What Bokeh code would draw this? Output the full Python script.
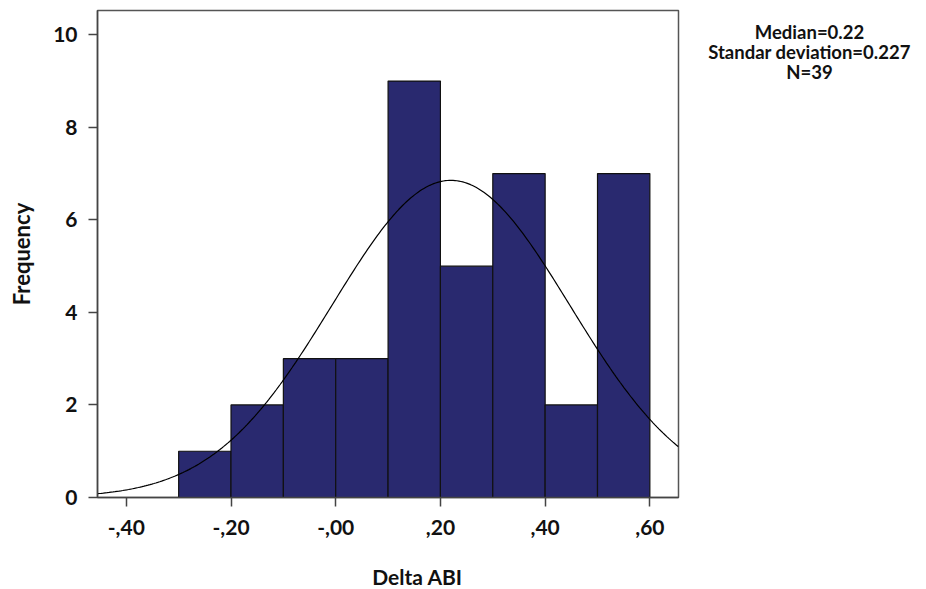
import numpy as np
from bokeh.plotting import figure
from bokeh.models import FixedTicker, Range1d
from bokeh.layouts import row, column
from bokeh.core.properties import value
from bokeh.embed import file_html
from bokeh.resources import INLINE

# Histogram data (Delta ABI)
bin_edges = [-0.3, -0.2, -0.1, 0.0, 0.1, 0.2, 0.3, 0.4, 0.5, 0.6]
counts = [1, 2, 3, 3, 9, 5, 7, 2, 7]

# Stats shown in the annotation / fitted normal curve
mean_val = 0.22
sd_val = 0.227
n_val = 39
bin_width = 0.1

x_ticks = [-0.4, -0.2, 0.0, 0.2, 0.4, 0.6]
x_tick_labels = ["-,40", "-,20", "-,00", ",20", ",40", ",60"]
y_ticks = [0, 2, 4, 6, 8, 10]
x_title = "Delta ABI"
y_title = "Frequency"
ann_lines = ["Median=0.22", "Standar deviation=0.227", "N=39"]

FONT = "Lato"
TXT = "#111111"

MAIN_W, MAIN_H = 690, 555

p = figure(width=MAIN_W, height=MAIN_H, output_backend="svg", toolbar_location=None,
           x_range=Range1d(-0.455, 0.6547), y_range=Range1d(0, 10.525),
           min_border_left=97, min_border_right=12, min_border_top=10,
           min_border_bottom=58)

p.xgrid.visible = False
p.ygrid.visible = False
p.background_fill_color = "white"
p.border_fill_color = "white"
p.outline_line_color = "#555555"
p.outline_line_width = 1.5

p.quad(left=bin_edges[:-1], right=bin_edges[1:], bottom=0, top=counts,
       fill_color="#29296f", line_color="#111111", line_width=1.2)

xs = np.linspace(-0.455, 0.6547, 300)
ys = n_val * bin_width / (sd_val * np.sqrt(2 * np.pi)) * np.exp(-0.5 * ((xs - mean_val) / sd_val) ** 2)
p.line(xs, ys, line_color="black", line_width=1.2)

for ax in (p.xaxis, p.yaxis):
    ax.axis_line_color = "#444444"
    ax.axis_line_width = 1.5
    ax.major_tick_line_color = "#444444"
    ax.major_tick_line_width = 1.5
    ax.major_tick_out = 9
    ax.major_tick_in = 0
    ax.minor_tick_line_color = None
    ax.major_label_text_font = FONT
    ax.major_label_text_font_style = "bold"
    ax.major_label_text_font_size = "21px"
    ax.major_label_text_color = TXT
    ax.axis_label_text_font = FONT
    ax.axis_label_text_font_style = "bold"
    ax.axis_label_text_font_size = "22px"
    ax.axis_label_text_color = TXT

p.xaxis.ticker = FixedTicker(ticks=x_ticks)
p.xaxis.major_label_overrides = {t: l for t, l in zip(x_ticks, x_tick_labels)}
p.xaxis.major_label_standoff = 13

p.yaxis.ticker = FixedTicker(ticks=y_ticks)
p.yaxis.major_label_standoff = 11
p.yaxis.axis_label = y_title
p.yaxis.axis_label_standoff = 15


def text_panel(w, h):
    f = figure(width=w, height=h, output_backend="svg", toolbar_location=None,
               x_range=Range1d(0, w), y_range=Range1d(h, 0),
               min_border=0, min_border_left=0, min_border_right=0,
               min_border_top=0, min_border_bottom=0)
    f.axis.visible = False
    f.grid.visible = False
    f.outline_line_color = None
    f.background_fill_color = "white"
    f.border_fill_color = "white"
    return f


# Stats annotation panel (right)
side = text_panel(926 - MAIN_W, MAIN_H)
side.text(x=[809 - MAIN_W] * 3, y=[24, 47, 70], text=ann_lines,
          text_align="center", text_baseline="middle",
          text_font=value(FONT), text_font_style="bold",
          text_font_size="18.5px", text_color=TXT)

# X axis title panel (bottom)
bottom = text_panel(926, 589 - MAIN_H)
bottom.text(x=[417], y=[21], text=[x_title],
            text_align="center", text_baseline="middle",
            text_font=value(FONT), text_font_style="bold",
            text_font_size="21px", text_color=TXT)

layout = column(row(p, side, spacing=0), bottom, spacing=0)

open("out.html", "w").write(file_html(layout, INLINE))
